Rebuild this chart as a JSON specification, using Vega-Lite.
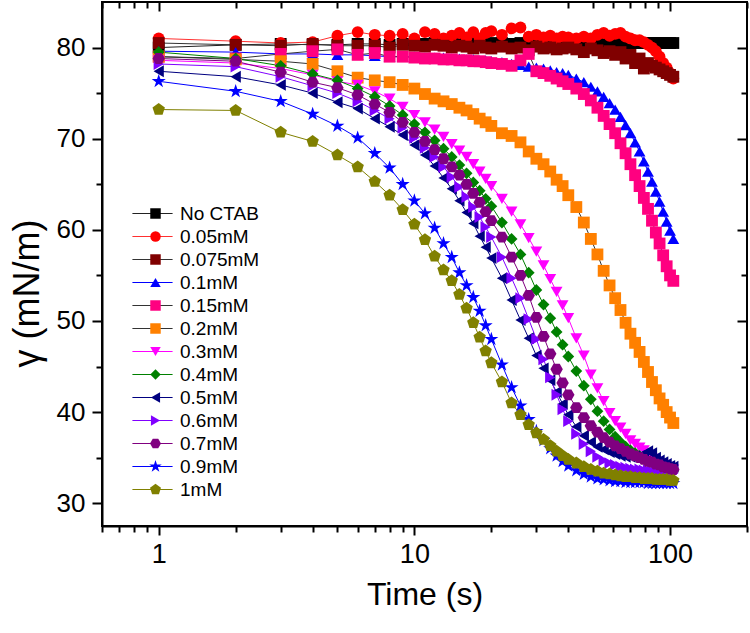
{
"$schema": "https://vega.github.io/schema/vega-lite/v6.json",
"width": 645, "height": 524,
"autosize": {"type": "none"},
"padding": {"left": 102, "top": 2, "right": 3, "bottom": 107},
"background": "white",
"config": {
  "font": "Liberation Sans",
  "view": {"stroke": "black", "strokeWidth": 2},
  "axis": {"domainColor": "black", "domainWidth": 2, "tickColor": "black", "tickWidth": 2, "labelColor": "black", "titleColor": "black", "labelFont": "Liberation Sans", "titleFont": "Liberation Sans", "grid": false, "labelFontSize": 26, "titleFontSize": 32, "titleFontWeight": "normal"},
  "legend": {"labelFont": "Liberation Sans", "labelFontSize": 19, "labelColor": "black"}
},
"data": {"values": [
{"s":"No CTAB","t":1,"g":80.0},{"s":"No CTAB","t":2,"g":80.3},{"s":"No CTAB","t":3,"g":80.4},{"s":"No CTAB","t":4,"g":80.3},{"s":"No CTAB","t":5,"g":80.3},{"s":"No CTAB","t":6,"g":80.4},{"s":"No CTAB","t":7,"g":80.4},{"s":"No CTAB","t":8,"g":80.3},{"s":"No CTAB","t":9,"g":80.4},{"s":"No CTAB","t":10,"g":80.4},{"s":"No CTAB","t":11,"g":80.4},{"s":"No CTAB","t":12,"g":80.5},{"s":"No CTAB","t":13,"g":80.4},{"s":"No CTAB","t":14,"g":80.4},{"s":"No CTAB","t":15,"g":80.5},{"s":"No CTAB","t":16,"g":80.4},{"s":"No CTAB","t":17,"g":80.5},{"s":"No CTAB","t":18,"g":80.5},{"s":"No CTAB","t":19,"g":80.4},{"s":"No CTAB","t":20,"g":80.5},{"s":"No CTAB","t":22,"g":80.5},{"s":"No CTAB","t":24,"g":80.4},{"s":"No CTAB","t":26,"g":80.5},{"s":"No CTAB","t":28,"g":80.5},{"s":"No CTAB","t":30,"g":80.5},{"s":"No CTAB","t":32,"g":80.5},{"s":"No CTAB","t":34,"g":80.5},{"s":"No CTAB","t":36,"g":80.6},{"s":"No CTAB","t":38,"g":80.5},{"s":"No CTAB","t":40,"g":80.5},{"s":"No CTAB","t":43,"g":80.5},{"s":"No CTAB","t":46,"g":80.5},{"s":"No CTAB","t":49,"g":80.5},{"s":"No CTAB","t":52,"g":80.5},{"s":"No CTAB","t":55,"g":80.6},{"s":"No CTAB","t":58,"g":80.5},{"s":"No CTAB","t":61,"g":80.5},{"s":"No CTAB","t":64,"g":80.5},{"s":"No CTAB","t":67,"g":80.5},{"s":"No CTAB","t":70,"g":80.5},{"s":"No CTAB","t":73,"g":80.5},{"s":"No CTAB","t":76,"g":80.5},{"s":"No CTAB","t":79,"g":80.5},{"s":"No CTAB","t":82,"g":80.5},{"s":"No CTAB","t":85,"g":80.5},{"s":"No CTAB","t":88,"g":80.5},{"s":"No CTAB","t":91,"g":80.5},{"s":"No CTAB","t":94,"g":80.5},{"s":"No CTAB","t":97,"g":80.5},{"s":"No CTAB","t":100,"g":80.5},{"s":"No CTAB","t":103,"g":80.5},
{"s":"0.05mM","t":1,"g":81.0},{"s":"0.05mM","t":2,"g":80.7},{"s":"0.05mM","t":3,"g":80.5},{"s":"0.05mM","t":4,"g":80.6},{"s":"0.05mM","t":5,"g":81.3},{"s":"0.05mM","t":6,"g":81.7},{"s":"0.05mM","t":7,"g":81.4},{"s":"0.05mM","t":8,"g":81.3},{"s":"0.05mM","t":9,"g":81.5},{"s":"0.05mM","t":10,"g":81.0},{"s":"0.05mM","t":11,"g":81.7},{"s":"0.05mM","t":12,"g":81.5},{"s":"0.05mM","t":13,"g":81.0},{"s":"0.05mM","t":14,"g":81.3},{"s":"0.05mM","t":15,"g":81.6},{"s":"0.05mM","t":16,"g":81.1},{"s":"0.05mM","t":17,"g":81.7},{"s":"0.05mM","t":18,"g":81.0},{"s":"0.05mM","t":19,"g":81.6},{"s":"0.05mM","t":20,"g":81.8},{"s":"0.05mM","t":22,"g":81.4},{"s":"0.05mM","t":24,"g":82.1},{"s":"0.05mM","t":26,"g":82.2},{"s":"0.05mM","t":28,"g":81.2},{"s":"0.05mM","t":30,"g":81.4},{"s":"0.05mM","t":32,"g":81.1},{"s":"0.05mM","t":34,"g":81.3},{"s":"0.05mM","t":36,"g":81.0},{"s":"0.05mM","t":38,"g":81.2},{"s":"0.05mM","t":40,"g":81.1},{"s":"0.05mM","t":43,"g":81.0},{"s":"0.05mM","t":46,"g":81.2},{"s":"0.05mM","t":49,"g":81.0},{"s":"0.05mM","t":52,"g":81.4},{"s":"0.05mM","t":55,"g":81.6},{"s":"0.05mM","t":58,"g":81.3},{"s":"0.05mM","t":61,"g":81.5},{"s":"0.05mM","t":64,"g":81.6},{"s":"0.05mM","t":67,"g":81.2},{"s":"0.05mM","t":70,"g":81.0},{"s":"0.05mM","t":73,"g":80.8},{"s":"0.05mM","t":76,"g":80.8},{"s":"0.05mM","t":79,"g":80.6},{"s":"0.05mM","t":82,"g":80.3},{"s":"0.05mM","t":85,"g":80.0},{"s":"0.05mM","t":88,"g":79.6},{"s":"0.05mM","t":91,"g":79.0},{"s":"0.05mM","t":94,"g":78.3},{"s":"0.05mM","t":97,"g":77.8},{"s":"0.05mM","t":100,"g":77.2},{"s":"0.05mM","t":103,"g":76.6},
{"s":"0.075mM","t":1,"g":80.5},{"s":"0.075mM","t":2,"g":80.3},{"s":"0.075mM","t":3,"g":80.2},{"s":"0.075mM","t":4,"g":80.4},{"s":"0.075mM","t":5,"g":80.2},{"s":"0.075mM","t":6,"g":80.2},{"s":"0.075mM","t":7,"g":80.2},{"s":"0.075mM","t":8,"g":80.0},{"s":"0.075mM","t":9,"g":80.3},{"s":"0.075mM","t":10,"g":80.2},{"s":"0.075mM","t":11,"g":80.1},{"s":"0.075mM","t":12,"g":80.3},{"s":"0.075mM","t":13,"g":80.2},{"s":"0.075mM","t":14,"g":80.0},{"s":"0.075mM","t":15,"g":80.2},{"s":"0.075mM","t":16,"g":80.1},{"s":"0.075mM","t":17,"g":79.9},{"s":"0.075mM","t":18,"g":80.2},{"s":"0.075mM","t":19,"g":80.0},{"s":"0.075mM","t":20,"g":79.9},{"s":"0.075mM","t":22,"g":80.1},{"s":"0.075mM","t":24,"g":79.9},{"s":"0.075mM","t":26,"g":80.0},{"s":"0.075mM","t":28,"g":79.7},{"s":"0.075mM","t":30,"g":80.1},{"s":"0.075mM","t":32,"g":79.9},{"s":"0.075mM","t":34,"g":80.0},{"s":"0.075mM","t":36,"g":79.8},{"s":"0.075mM","t":38,"g":79.9},{"s":"0.075mM","t":40,"g":80.0},{"s":"0.075mM","t":43,"g":79.8},{"s":"0.075mM","t":46,"g":79.5},{"s":"0.075mM","t":49,"g":79.9},{"s":"0.075mM","t":52,"g":79.7},{"s":"0.075mM","t":55,"g":79.4},{"s":"0.075mM","t":58,"g":79.6},{"s":"0.075mM","t":61,"g":79.2},{"s":"0.075mM","t":64,"g":79.5},{"s":"0.075mM","t":67,"g":78.8},{"s":"0.075mM","t":70,"g":79.2},{"s":"0.075mM","t":73,"g":78.3},{"s":"0.075mM","t":76,"g":78.8},{"s":"0.075mM","t":79,"g":77.7},{"s":"0.075mM","t":82,"g":78.3},{"s":"0.075mM","t":85,"g":78.0},{"s":"0.075mM","t":88,"g":77.8},{"s":"0.075mM","t":91,"g":77.6},{"s":"0.075mM","t":94,"g":77.4},{"s":"0.075mM","t":97,"g":77.2},{"s":"0.075mM","t":100,"g":77.0},{"s":"0.075mM","t":103,"g":76.8},
{"s":"0.1mM","t":1,"g":79.6},{"s":"0.1mM","t":2,"g":79.5},{"s":"0.1mM","t":3,"g":79.3},{"s":"0.1mM","t":4,"g":79.3},{"s":"0.1mM","t":5,"g":79.2},{"s":"0.1mM","t":6,"g":79.2},{"s":"0.1mM","t":7,"g":79.1},{"s":"0.1mM","t":8,"g":79.0},{"s":"0.1mM","t":9,"g":79.0},{"s":"0.1mM","t":10,"g":79.0},{"s":"0.1mM","t":11,"g":78.9},{"s":"0.1mM","t":12,"g":78.9},{"s":"0.1mM","t":13,"g":78.9},{"s":"0.1mM","t":14,"g":78.8},{"s":"0.1mM","t":15,"g":78.8},{"s":"0.1mM","t":16,"g":78.7},{"s":"0.1mM","t":17,"g":78.7},{"s":"0.1mM","t":18,"g":78.6},{"s":"0.1mM","t":19,"g":78.6},{"s":"0.1mM","t":20,"g":78.5},{"s":"0.1mM","t":22,"g":78.4},{"s":"0.1mM","t":24,"g":78.2},{"s":"0.1mM","t":26,"g":78.1},{"s":"0.1mM","t":28,"g":77.9},{"s":"0.1mM","t":30,"g":77.8},{"s":"0.1mM","t":32,"g":77.7},{"s":"0.1mM","t":34,"g":77.5},{"s":"0.1mM","t":36,"g":77.3},{"s":"0.1mM","t":38,"g":77.2},{"s":"0.1mM","t":40,"g":77.0},{"s":"0.1mM","t":43,"g":76.6},{"s":"0.1mM","t":46,"g":76.2},{"s":"0.1mM","t":49,"g":75.7},{"s":"0.1mM","t":52,"g":75.2},{"s":"0.1mM","t":55,"g":74.6},{"s":"0.1mM","t":58,"g":73.9},{"s":"0.1mM","t":61,"g":73.2},{"s":"0.1mM","t":64,"g":72.4},{"s":"0.1mM","t":67,"g":71.5},{"s":"0.1mM","t":70,"g":70.6},{"s":"0.1mM","t":73,"g":69.6},{"s":"0.1mM","t":76,"g":68.6},{"s":"0.1mM","t":79,"g":67.5},{"s":"0.1mM","t":82,"g":66.4},{"s":"0.1mM","t":85,"g":65.3},{"s":"0.1mM","t":88,"g":64.2},{"s":"0.1mM","t":91,"g":63.1},{"s":"0.1mM","t":94,"g":62.0},{"s":"0.1mM","t":97,"g":60.9},{"s":"0.1mM","t":100,"g":59.9},{"s":"0.1mM","t":103,"g":59.0},
{"s":"0.15mM","t":1,"g":79.0},{"s":"0.15mM","t":2,"g":78.8},{"s":"0.15mM","t":3,"g":79.3},{"s":"0.15mM","t":4,"g":79.6},{"s":"0.15mM","t":5,"g":79.8},{"s":"0.15mM","t":6,"g":79.2},{"s":"0.15mM","t":7,"g":79.4},{"s":"0.15mM","t":8,"g":79.0},{"s":"0.15mM","t":9,"g":79.0},{"s":"0.15mM","t":10,"g":78.9},{"s":"0.15mM","t":11,"g":78.8},{"s":"0.15mM","t":12,"g":78.8},{"s":"0.15mM","t":13,"g":78.7},{"s":"0.15mM","t":14,"g":78.7},{"s":"0.15mM","t":15,"g":78.6},{"s":"0.15mM","t":16,"g":78.6},{"s":"0.15mM","t":17,"g":78.5},{"s":"0.15mM","t":18,"g":78.5},{"s":"0.15mM","t":19,"g":78.4},{"s":"0.15mM","t":20,"g":78.3},{"s":"0.15mM","t":22,"g":78.2},{"s":"0.15mM","t":24,"g":78.0},{"s":"0.15mM","t":26,"g":78.6},{"s":"0.15mM","t":28,"g":79.3},{"s":"0.15mM","t":30,"g":77.4},{"s":"0.15mM","t":32,"g":77.2},{"s":"0.15mM","t":34,"g":76.9},{"s":"0.15mM","t":36,"g":76.6},{"s":"0.15mM","t":38,"g":76.3},{"s":"0.15mM","t":40,"g":76.0},{"s":"0.15mM","t":43,"g":75.5},{"s":"0.15mM","t":46,"g":74.9},{"s":"0.15mM","t":49,"g":74.2},{"s":"0.15mM","t":52,"g":73.4},{"s":"0.15mM","t":55,"g":72.5},{"s":"0.15mM","t":58,"g":71.6},{"s":"0.15mM","t":61,"g":70.6},{"s":"0.15mM","t":64,"g":69.5},{"s":"0.15mM","t":67,"g":68.4},{"s":"0.15mM","t":70,"g":67.2},{"s":"0.15mM","t":73,"g":66.0},{"s":"0.15mM","t":76,"g":64.8},{"s":"0.15mM","t":79,"g":63.5},{"s":"0.15mM","t":82,"g":62.3},{"s":"0.15mM","t":85,"g":61.0},{"s":"0.15mM","t":88,"g":59.7},{"s":"0.15mM","t":91,"g":58.5},{"s":"0.15mM","t":94,"g":57.2},{"s":"0.15mM","t":97,"g":56.0},{"s":"0.15mM","t":100,"g":55.0},{"s":"0.15mM","t":103,"g":54.4},
{"s":"0.2mM","t":1,"g":79.0},{"s":"0.2mM","t":2,"g":78.7},{"s":"0.2mM","t":3,"g":78.5},{"s":"0.2mM","t":4,"g":78.2},{"s":"0.2mM","t":5,"g":77.4},{"s":"0.2mM","t":6,"g":76.7},{"s":"0.2mM","t":7,"g":76.4},{"s":"0.2mM","t":8,"g":76.2},{"s":"0.2mM","t":9,"g":75.9},{"s":"0.2mM","t":10,"g":75.5},{"s":"0.2mM","t":11,"g":74.9},{"s":"0.2mM","t":12,"g":74.4},{"s":"0.2mM","t":13,"g":74.1},{"s":"0.2mM","t":14,"g":73.8},{"s":"0.2mM","t":15,"g":73.4},{"s":"0.2mM","t":16,"g":73.1},{"s":"0.2mM","t":17,"g":72.7},{"s":"0.2mM","t":18,"g":72.2},{"s":"0.2mM","t":19,"g":71.8},{"s":"0.2mM","t":20,"g":71.4},{"s":"0.2mM","t":22,"g":70.6},{"s":"0.2mM","t":24,"g":70.3},{"s":"0.2mM","t":26,"g":69.6},{"s":"0.2mM","t":28,"g":68.6},{"s":"0.2mM","t":30,"g":67.8},{"s":"0.2mM","t":32,"g":67.2},{"s":"0.2mM","t":34,"g":66.4},{"s":"0.2mM","t":36,"g":65.5},{"s":"0.2mM","t":38,"g":64.8},{"s":"0.2mM","t":40,"g":63.8},{"s":"0.2mM","t":43,"g":62.5},{"s":"0.2mM","t":46,"g":60.8},{"s":"0.2mM","t":49,"g":59.0},{"s":"0.2mM","t":52,"g":57.3},{"s":"0.2mM","t":55,"g":55.5},{"s":"0.2mM","t":58,"g":53.9},{"s":"0.2mM","t":61,"g":52.5},{"s":"0.2mM","t":64,"g":51.2},{"s":"0.2mM","t":67,"g":49.8},{"s":"0.2mM","t":70,"g":48.6},{"s":"0.2mM","t":73,"g":47.6},{"s":"0.2mM","t":76,"g":46.6},{"s":"0.2mM","t":79,"g":45.5},{"s":"0.2mM","t":82,"g":44.4},{"s":"0.2mM","t":85,"g":43.3},{"s":"0.2mM","t":88,"g":42.4},{"s":"0.2mM","t":91,"g":41.5},{"s":"0.2mM","t":94,"g":40.8},{"s":"0.2mM","t":97,"g":40.0},{"s":"0.2mM","t":100,"g":39.4},{"s":"0.2mM","t":103,"g":38.8},
{"s":"0.3mM","t":1,"g":78.6},{"s":"0.3mM","t":2,"g":78.3},{"s":"0.3mM","t":3,"g":77.7},{"s":"0.3mM","t":4,"g":77.0},{"s":"0.3mM","t":5,"g":76.3},{"s":"0.3mM","t":6,"g":75.9},{"s":"0.3mM","t":7,"g":75.2},{"s":"0.3mM","t":8,"g":74.4},{"s":"0.3mM","t":9,"g":73.5},{"s":"0.3mM","t":10,"g":72.6},{"s":"0.3mM","t":11,"g":71.8},{"s":"0.3mM","t":12,"g":71.0},{"s":"0.3mM","t":13,"g":70.2},{"s":"0.3mM","t":14,"g":69.4},{"s":"0.3mM","t":15,"g":68.7},{"s":"0.3mM","t":16,"g":68.0},{"s":"0.3mM","t":17,"g":67.2},{"s":"0.3mM","t":18,"g":66.4},{"s":"0.3mM","t":19,"g":65.6},{"s":"0.3mM","t":20,"g":64.8},{"s":"0.3mM","t":22,"g":63.4},{"s":"0.3mM","t":24,"g":62.0},{"s":"0.3mM","t":26,"g":60.6},{"s":"0.3mM","t":28,"g":59.1},{"s":"0.3mM","t":30,"g":57.6},{"s":"0.3mM","t":32,"g":56.1},{"s":"0.3mM","t":34,"g":54.6},{"s":"0.3mM","t":36,"g":53.2},{"s":"0.3mM","t":38,"g":51.7},{"s":"0.3mM","t":40,"g":50.3},{"s":"0.3mM","t":43,"g":48.1},{"s":"0.3mM","t":46,"g":46.2},{"s":"0.3mM","t":49,"g":44.1},{"s":"0.3mM","t":52,"g":42.6},{"s":"0.3mM","t":55,"g":41.2},{"s":"0.3mM","t":58,"g":39.9},{"s":"0.3mM","t":61,"g":39.0},{"s":"0.3mM","t":64,"g":38.3},{"s":"0.3mM","t":67,"g":37.6},{"s":"0.3mM","t":70,"g":36.9},{"s":"0.3mM","t":73,"g":36.5},{"s":"0.3mM","t":76,"g":36.1},{"s":"0.3mM","t":79,"g":35.8},{"s":"0.3mM","t":82,"g":35.3},{"s":"0.3mM","t":85,"g":34.9},{"s":"0.3mM","t":88,"g":34.6},{"s":"0.3mM","t":91,"g":34.4},{"s":"0.3mM","t":94,"g":34.2},{"s":"0.3mM","t":97,"g":34.0},{"s":"0.3mM","t":100,"g":33.8},{"s":"0.3mM","t":103,"g":33.7},
{"s":"0.4mM","t":1,"g":79.5},{"s":"0.4mM","t":2,"g":78.8},{"s":"0.4mM","t":3,"g":78.0},{"s":"0.4mM","t":4,"g":77.1},{"s":"0.4mM","t":5,"g":76.4},{"s":"0.4mM","t":6,"g":75.5},{"s":"0.4mM","t":7,"g":74.6},{"s":"0.4mM","t":8,"g":73.6},{"s":"0.4mM","t":9,"g":72.6},{"s":"0.4mM","t":10,"g":71.6},{"s":"0.4mM","t":11,"g":70.7},{"s":"0.4mM","t":12,"g":69.8},{"s":"0.4mM","t":13,"g":68.9},{"s":"0.4mM","t":14,"g":68.0},{"s":"0.4mM","t":15,"g":67.1},{"s":"0.4mM","t":16,"g":66.2},{"s":"0.4mM","t":17,"g":65.2},{"s":"0.4mM","t":18,"g":64.3},{"s":"0.4mM","t":19,"g":63.4},{"s":"0.4mM","t":20,"g":62.6},{"s":"0.4mM","t":22,"g":60.8},{"s":"0.4mM","t":24,"g":59.0},{"s":"0.4mM","t":26,"g":57.3},{"s":"0.4mM","t":28,"g":55.3},{"s":"0.4mM","t":30,"g":53.4},{"s":"0.4mM","t":32,"g":51.8},{"s":"0.4mM","t":34,"g":50.3},{"s":"0.4mM","t":36,"g":48.8},{"s":"0.4mM","t":38,"g":47.4},{"s":"0.4mM","t":40,"g":46.1},{"s":"0.4mM","t":43,"g":44.5},{"s":"0.4mM","t":46,"g":42.9},{"s":"0.4mM","t":49,"g":41.4},{"s":"0.4mM","t":52,"g":40.1},{"s":"0.4mM","t":55,"g":39.0},{"s":"0.4mM","t":58,"g":38.1},{"s":"0.4mM","t":61,"g":37.3},{"s":"0.4mM","t":64,"g":36.7},{"s":"0.4mM","t":67,"g":36.2},{"s":"0.4mM","t":70,"g":35.8},{"s":"0.4mM","t":73,"g":35.5},{"s":"0.4mM","t":76,"g":35.2},{"s":"0.4mM","t":79,"g":34.9},{"s":"0.4mM","t":82,"g":34.6},{"s":"0.4mM","t":85,"g":34.4},{"s":"0.4mM","t":88,"g":34.2},{"s":"0.4mM","t":91,"g":34.0},{"s":"0.4mM","t":94,"g":33.9},{"s":"0.4mM","t":97,"g":33.8},{"s":"0.4mM","t":100,"g":33.7},{"s":"0.4mM","t":103,"g":33.6},
{"s":"0.5mM","t":1,"g":77.4},{"s":"0.5mM","t":2,"g":76.8},{"s":"0.5mM","t":3,"g":75.9},{"s":"0.5mM","t":4,"g":75.0},{"s":"0.5mM","t":5,"g":74.0},{"s":"0.5mM","t":6,"g":73.3},{"s":"0.5mM","t":7,"g":72.2},{"s":"0.5mM","t":8,"g":71.3},{"s":"0.5mM","t":9,"g":70.4},{"s":"0.5mM","t":10,"g":69.3},{"s":"0.5mM","t":11,"g":68.2},{"s":"0.5mM","t":12,"g":67.0},{"s":"0.5mM","t":13,"g":65.7},{"s":"0.5mM","t":14,"g":64.5},{"s":"0.5mM","t":15,"g":63.2},{"s":"0.5mM","t":16,"g":61.9},{"s":"0.5mM","t":17,"g":60.7},{"s":"0.5mM","t":18,"g":59.3},{"s":"0.5mM","t":19,"g":58.1},{"s":"0.5mM","t":20,"g":56.9},{"s":"0.5mM","t":22,"g":54.7},{"s":"0.5mM","t":24,"g":52.3},{"s":"0.5mM","t":26,"g":50.1},{"s":"0.5mM","t":28,"g":48.1},{"s":"0.5mM","t":30,"g":46.2},{"s":"0.5mM","t":32,"g":44.8},{"s":"0.5mM","t":34,"g":43.5},{"s":"0.5mM","t":36,"g":42.2},{"s":"0.5mM","t":38,"g":40.9},{"s":"0.5mM","t":40,"g":39.7},{"s":"0.5mM","t":43,"g":38.4},{"s":"0.5mM","t":46,"g":37.4},{"s":"0.5mM","t":49,"g":36.7},{"s":"0.5mM","t":52,"g":36.2},{"s":"0.5mM","t":55,"g":35.9},{"s":"0.5mM","t":58,"g":35.6},{"s":"0.5mM","t":61,"g":35.4},{"s":"0.5mM","t":64,"g":35.2},{"s":"0.5mM","t":67,"g":35.1},{"s":"0.5mM","t":70,"g":35.1},{"s":"0.5mM","t":73,"g":35.1},{"s":"0.5mM","t":76,"g":35.2},{"s":"0.5mM","t":79,"g":35.4},{"s":"0.5mM","t":82,"g":35.7},{"s":"0.5mM","t":85,"g":35.5},{"s":"0.5mM","t":88,"g":35.0},{"s":"0.5mM","t":91,"g":34.7},{"s":"0.5mM","t":94,"g":34.5},{"s":"0.5mM","t":97,"g":34.3},{"s":"0.5mM","t":100,"g":34.1},{"s":"0.5mM","t":103,"g":34.0},
{"s":"0.6mM","t":1,"g":78.2},{"s":"0.6mM","t":2,"g":77.9},{"s":"0.6mM","t":3,"g":76.8},{"s":"0.6mM","t":4,"g":75.8},{"s":"0.6mM","t":5,"g":75.0},{"s":"0.6mM","t":6,"g":74.1},{"s":"0.6mM","t":7,"g":73.1},{"s":"0.6mM","t":8,"g":72.2},{"s":"0.6mM","t":9,"g":71.2},{"s":"0.6mM","t":10,"g":70.1},{"s":"0.6mM","t":11,"g":69.0},{"s":"0.6mM","t":12,"g":68.0},{"s":"0.6mM","t":13,"g":66.9},{"s":"0.6mM","t":14,"g":65.8},{"s":"0.6mM","t":15,"g":64.7},{"s":"0.6mM","t":16,"g":63.6},{"s":"0.6mM","t":17,"g":62.5},{"s":"0.6mM","t":18,"g":61.4},{"s":"0.6mM","t":19,"g":60.3},{"s":"0.6mM","t":20,"g":59.2},{"s":"0.6mM","t":22,"g":57.0},{"s":"0.6mM","t":24,"g":54.7},{"s":"0.6mM","t":26,"g":52.5},{"s":"0.6mM","t":28,"g":50.2},{"s":"0.6mM","t":30,"g":48.0},{"s":"0.6mM","t":32,"g":45.8},{"s":"0.6mM","t":34,"g":43.8},{"s":"0.6mM","t":36,"g":41.9},{"s":"0.6mM","t":38,"g":40.3},{"s":"0.6mM","t":40,"g":39.0},{"s":"0.6mM","t":43,"g":37.6},{"s":"0.6mM","t":46,"g":36.5},{"s":"0.6mM","t":49,"g":35.7},{"s":"0.6mM","t":52,"g":35.1},{"s":"0.6mM","t":55,"g":34.7},{"s":"0.6mM","t":58,"g":34.4},{"s":"0.6mM","t":61,"g":34.2},{"s":"0.6mM","t":64,"g":34.0},{"s":"0.6mM","t":67,"g":33.9},{"s":"0.6mM","t":70,"g":33.8},{"s":"0.6mM","t":73,"g":33.7},{"s":"0.6mM","t":76,"g":33.7},{"s":"0.6mM","t":79,"g":33.6},{"s":"0.6mM","t":82,"g":33.6},{"s":"0.6mM","t":85,"g":33.5},{"s":"0.6mM","t":88,"g":33.5},{"s":"0.6mM","t":91,"g":33.5},{"s":"0.6mM","t":94,"g":33.4},{"s":"0.6mM","t":97,"g":33.4},{"s":"0.6mM","t":100,"g":33.4},{"s":"0.6mM","t":103,"g":33.3},
{"s":"0.7mM","t":1,"g":78.8},{"s":"0.7mM","t":2,"g":78.5},{"s":"0.7mM","t":3,"g":77.3},{"s":"0.7mM","t":4,"g":76.2},{"s":"0.7mM","t":5,"g":75.6},{"s":"0.7mM","t":6,"g":74.8},{"s":"0.7mM","t":7,"g":73.8},{"s":"0.7mM","t":8,"g":72.9},{"s":"0.7mM","t":9,"g":71.8},{"s":"0.7mM","t":10,"g":70.7},{"s":"0.7mM","t":11,"g":69.7},{"s":"0.7mM","t":12,"g":68.8},{"s":"0.7mM","t":13,"g":67.8},{"s":"0.7mM","t":14,"g":66.9},{"s":"0.7mM","t":15,"g":66.0},{"s":"0.7mM","t":16,"g":65.0},{"s":"0.7mM","t":17,"g":64.0},{"s":"0.7mM","t":18,"g":63.0},{"s":"0.7mM","t":19,"g":62.0},{"s":"0.7mM","t":20,"g":61.0},{"s":"0.7mM","t":22,"g":59.2},{"s":"0.7mM","t":24,"g":57.0},{"s":"0.7mM","t":26,"g":55.0},{"s":"0.7mM","t":28,"g":52.8},{"s":"0.7mM","t":30,"g":50.4},{"s":"0.7mM","t":32,"g":48.3},{"s":"0.7mM","t":34,"g":46.4},{"s":"0.7mM","t":36,"g":44.7},{"s":"0.7mM","t":38,"g":43.2},{"s":"0.7mM","t":40,"g":41.9},{"s":"0.7mM","t":43,"g":40.5},{"s":"0.7mM","t":46,"g":39.4},{"s":"0.7mM","t":49,"g":38.5},{"s":"0.7mM","t":52,"g":37.8},{"s":"0.7mM","t":55,"g":37.2},{"s":"0.7mM","t":58,"g":36.7},{"s":"0.7mM","t":61,"g":36.3},{"s":"0.7mM","t":64,"g":36.0},{"s":"0.7mM","t":67,"g":35.7},{"s":"0.7mM","t":70,"g":35.4},{"s":"0.7mM","t":73,"g":35.2},{"s":"0.7mM","t":76,"g":35.0},{"s":"0.7mM","t":79,"g":34.8},{"s":"0.7mM","t":82,"g":34.6},{"s":"0.7mM","t":85,"g":34.5},{"s":"0.7mM","t":88,"g":34.3},{"s":"0.7mM","t":91,"g":34.2},{"s":"0.7mM","t":94,"g":34.0},{"s":"0.7mM","t":97,"g":33.9},{"s":"0.7mM","t":100,"g":33.8},{"s":"0.7mM","t":103,"g":33.7},
{"s":"0.9mM","t":1,"g":76.3},{"s":"0.9mM","t":2,"g":75.2},{"s":"0.9mM","t":3,"g":74.1},{"s":"0.9mM","t":4,"g":72.7},{"s":"0.9mM","t":5,"g":71.4},{"s":"0.9mM","t":6,"g":70.1},{"s":"0.9mM","t":7,"g":68.4},{"s":"0.9mM","t":8,"g":66.8},{"s":"0.9mM","t":9,"g":65.0},{"s":"0.9mM","t":10,"g":63.2},{"s":"0.9mM","t":11,"g":61.8},{"s":"0.9mM","t":12,"g":60.2},{"s":"0.9mM","t":13,"g":58.5},{"s":"0.9mM","t":14,"g":57.0},{"s":"0.9mM","t":15,"g":55.3},{"s":"0.9mM","t":16,"g":53.9},{"s":"0.9mM","t":17,"g":52.6},{"s":"0.9mM","t":18,"g":51.1},{"s":"0.9mM","t":19,"g":49.5},{"s":"0.9mM","t":20,"g":48.0},{"s":"0.9mM","t":22,"g":45.2},{"s":"0.9mM","t":24,"g":42.7},{"s":"0.9mM","t":26,"g":40.7},{"s":"0.9mM","t":28,"g":39.2},{"s":"0.9mM","t":30,"g":37.9},{"s":"0.9mM","t":32,"g":36.9},{"s":"0.9mM","t":34,"g":36.0},{"s":"0.9mM","t":36,"g":35.2},{"s":"0.9mM","t":38,"g":34.6},{"s":"0.9mM","t":40,"g":34.1},{"s":"0.9mM","t":43,"g":33.6},{"s":"0.9mM","t":46,"g":33.2},{"s":"0.9mM","t":49,"g":32.9},{"s":"0.9mM","t":52,"g":32.7},{"s":"0.9mM","t":55,"g":32.6},{"s":"0.9mM","t":58,"g":32.5},{"s":"0.9mM","t":61,"g":32.4},{"s":"0.9mM","t":64,"g":32.4},{"s":"0.9mM","t":67,"g":32.3},{"s":"0.9mM","t":70,"g":32.3},{"s":"0.9mM","t":73,"g":32.3},{"s":"0.9mM","t":76,"g":32.3},{"s":"0.9mM","t":79,"g":32.3},{"s":"0.9mM","t":82,"g":32.2},{"s":"0.9mM","t":85,"g":32.2},{"s":"0.9mM","t":88,"g":32.2},{"s":"0.9mM","t":91,"g":32.2},{"s":"0.9mM","t":94,"g":32.2},{"s":"0.9mM","t":97,"g":32.2},{"s":"0.9mM","t":100,"g":32.2},{"s":"0.9mM","t":103,"g":32.2},
{"s":"1mM","t":1,"g":73.2},{"s":"1mM","t":2,"g":73.1},{"s":"1mM","t":3,"g":70.7},{"s":"1mM","t":4,"g":69.7},{"s":"1mM","t":5,"g":68.2},{"s":"1mM","t":6,"g":66.9},{"s":"1mM","t":7,"g":65.3},{"s":"1mM","t":8,"g":63.8},{"s":"1mM","t":9,"g":62.2},{"s":"1mM","t":10,"g":60.6},{"s":"1mM","t":11,"g":58.9},{"s":"1mM","t":12,"g":57.1},{"s":"1mM","t":13,"g":55.6},{"s":"1mM","t":14,"g":54.4},{"s":"1mM","t":15,"g":52.9},{"s":"1mM","t":16,"g":51.4},{"s":"1mM","t":17,"g":49.8},{"s":"1mM","t":18,"g":48.2},{"s":"1mM","t":19,"g":46.7},{"s":"1mM","t":20,"g":45.4},{"s":"1mM","t":22,"g":43.3},{"s":"1mM","t":24,"g":41.0},{"s":"1mM","t":26,"g":39.7},{"s":"1mM","t":28,"g":38.6},{"s":"1mM","t":30,"g":37.7},{"s":"1mM","t":32,"g":37.0},{"s":"1mM","t":34,"g":36.3},{"s":"1mM","t":36,"g":35.7},{"s":"1mM","t":38,"g":35.2},{"s":"1mM","t":40,"g":34.8},{"s":"1mM","t":43,"g":34.4},{"s":"1mM","t":46,"g":34.0},{"s":"1mM","t":49,"g":33.7},{"s":"1mM","t":52,"g":33.5},{"s":"1mM","t":55,"g":33.3},{"s":"1mM","t":58,"g":33.2},{"s":"1mM","t":61,"g":33.1},{"s":"1mM","t":64,"g":33.0},{"s":"1mM","t":67,"g":32.9},{"s":"1mM","t":70,"g":32.9},{"s":"1mM","t":73,"g":32.8},{"s":"1mM","t":76,"g":32.8},{"s":"1mM","t":79,"g":32.7},{"s":"1mM","t":82,"g":32.7},{"s":"1mM","t":85,"g":32.7},{"s":"1mM","t":88,"g":32.6},{"s":"1mM","t":91,"g":32.6},{"s":"1mM","t":94,"g":32.6},{"s":"1mM","t":97,"g":32.6},{"s":"1mM","t":100,"g":32.5},{"s":"1mM","t":103,"g":32.5}
]},
"layer": [
  {
    "mark": {"type": "line", "strokeWidth": 1},
    "encoding": {
      "x": {"field": "t", "type": "quantitative", "scale": {"type": "log", "domain": [0.6, 200], "nice": false},
        "axis": {"orient": "bottom", "title": "Time (s)", "values": [0.6,0.7,0.8,0.9,1,2,3,4,5,6,7,8,9,10,20,30,40,50,60,70,80,90,100,200],
          "labelExpr": "datum.value == 1 ? '1' : datum.value == 10 ? '10' : datum.value == 100 ? '100' : ''",
          "tickSize": {"condition": {"test": "datum.value == 1 || datum.value == 10 || datum.value == 100", "value": 9}, "value": 6},
          "labelPadding": 6, "titlePadding": 12, "labelFontSize": 27, "labelFlush": false, "labelOverlap": false}},
      "y": {"field": "g", "type": "quantitative", "scale": {"domain": [27.5, 85], "nice": false, "zero": false},
        "axis": {"orient": "left", "title": "γ (mN/m)", "values": [30,35,40,45,50,55,60,65,70,75,80],
          "labelExpr": "datum.value % 10 == 0 ? datum.label : ''",
          "tickSize": {"condition": {"test": "datum.value % 10 == 0", "value": 10}, "value": 6},
          "labelPadding": 7, "titlePadding": 10, "titleY": 291, "titleFontSize": 36, "labelOverlap": false}},
      "stroke": {"field": "s", "type": "nominal",
        "sort": ["No CTAB","0.05mM","0.075mM","0.1mM","0.15mM","0.2mM","0.3mM","0.4mM","0.5mM","0.6mM","0.7mM","0.9mM","1mM"],
        "scale": {"range": ["#222222","#FF3030","#333333","#0000FF","#333333","#333333","#FF00FF","#008000","#000080","#8000FF","#800080","#0000FF","#808000"]},
        "legend": {"title": null, "orient": "none", "legendX": 41, "legendY": 202, "symbolType": "M-2.4,0L2.4,0", "symbolSize": 280, "symbolStrokeWidth": 1, "labelExpr": "''", "labelFontSize": 19, "rowPadding": 3, "zindex": 1}}
    }
  },
  {
    "mark": {"type": "point", "filled": true, "opacity": 1, "size": 140},
    "encoding": {
      "x": {"field": "t", "type": "quantitative",
        "axis": {"orient": "top", "title": null, "labels": false, "domain": false, "values": [0.6,0.7,0.8,0.9,1,2,3,4,5,6,7,8,9,10,20,30,40,50,60,70,80,90,100,200],
          "tickSize": {"condition": {"test": "datum.value == 1 || datum.value == 10 || datum.value == 100", "value": -9}, "value": -6}}},
      "y": {"field": "g", "type": "quantitative",
        "axis": {"orient": "right", "title": null, "labels": false, "domain": false, "values": [30,35,40,45,50,55,60,65,70,75,80],
          "tickSize": {"condition": {"test": "datum.value % 10 == 0", "value": -10}, "value": -6}}},
      "color": {"field": "s", "type": "nominal",
        "scale": {"domain": ["No CTAB","0.05mM","0.075mM","0.1mM","0.15mM","0.2mM","0.3mM","0.4mM","0.5mM","0.6mM","0.7mM","0.9mM","1mM"],
          "range": ["#000000","#FF0000","#800000","#0000FF","#FF0080","#FF8000","#FF00FF","#008000","#000080","#8000FF","#800080","#0000FF","#808000"]},
        "legend": {"title": null, "orient": "none", "legendX": 44, "legendY": 202, "symbolSize": 110, "symbolStrokeWidth": 0, "labelOffset": 15, "labelFontSize": 19, "rowPadding": 3, "zindex": 2}},
      "shape": {"field": "s", "type": "nominal",
        "scale": {"domain": ["No CTAB","0.05mM","0.075mM","0.1mM","0.15mM","0.2mM","0.3mM","0.4mM","0.5mM","0.6mM","0.7mM","0.9mM","1mM"],
          "range": ["square","circle","square","triangle-up","square","square","triangle-down","diamond","triangle-left","triangle-right",
            "M-1.05,0L-0.525,-0.91L0.525,-0.91L1.05,0L0.525,0.91L-0.525,0.91Z",
            "M0,-1.25L0.281,-0.386L1.189,-0.386L0.454,0.147L0.735,1.011L0,0.478L-0.735,1.011L-0.454,0.147L-1.189,-0.386L-0.281,-0.386Z",
            "M0,-1.1L1.046,-0.34L0.647,0.89L-0.647,0.89L-1.046,-0.34Z"]},
        "legend": {"title": null, "orient": "none", "legendX": 44, "legendY": 202, "symbolSize": 110, "symbolStrokeWidth": 0, "labelOffset": 15, "labelFontSize": 19, "rowPadding": 3, "zindex": 2}}
    }
  }
],
"resolve": {"axis": {"x": "independent", "y": "independent"}}
}
